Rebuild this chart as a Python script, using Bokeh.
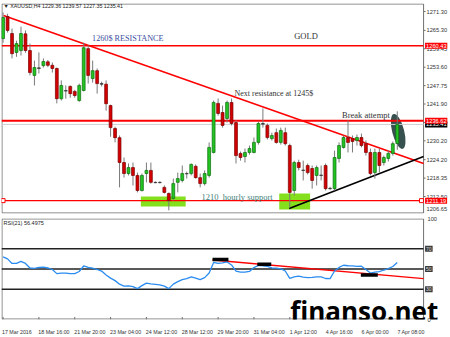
from bokeh.plotting import figure
from bokeh.layouts import column
from bokeh.models import Range1d, FixedTicker, Label, PrintfTickFormatter
from bokeh.embed import file_html
from bokeh.resources import INLINE

# ---------------- data ----------------
opens = [1262.7, 1269.7, 1264.3, 1258.3, 1258.9, 1264.2, 1258.9, 1251.0, 1253.4, 1254.1,
         1255.3, 1254.2, 1253.2, 1243.6, 1246.2, 1247.5, 1245.9, 1243.0, 1246.2, 1259.5,
         1250.0, 1252.5, 1248.4, 1248.2, 1241.4, 1234.1, 1231.2, 1223.3, 1219.8, 1221.7,
         1219.2, 1214.4, 1219.8, 1220.8, 1217.0, 1216.9, 1215.4, 1213.45, 1211.9, 1217.0,
         1217.6, 1219.8, 1219.8, 1222.1, 1218.5, 1216.6, 1219.2, 1226.5, 1242.1, 1239.2,
         1237.3, 1242.4, 1236.0, 1226.2, 1225.2, 1226.5, 1226.5, 1229.7, 1235.7, 1235.1,
         1230.9, 1232.8, 1229.7, 1232.8, 1228.7, 1214.4, 1223.3, 1220.8, 1222.35, 1221.4,
         1219.2, 1219.2, 1222.35, 1215.0, 1215.0, 1224.6, 1228.1, 1231.25, 1230.9, 1230.3,
         1231.25, 1229.3, 1226.5, 1220.1, 1226.5, 1223.3, 1224.6, 1226.2, 1229.36]
highs = [1271.0, 1270.6, 1265.9, 1262.0, 1266.5, 1265.3, 1261.1, 1255.7, 1258.3, 1256.4,
         1255.9, 1255.1, 1253.5, 1249.4, 1247.8, 1247.8, 1246.4, 1248.4, 1261.4, 1260.5,
         1255.7, 1253.2, 1249.0, 1249.4, 1241.7, 1234.7, 1231.9, 1224.9, 1223.0, 1223.3,
         1220.1, 1219.8, 1223.3, 1223.3, 1217.3, 1217.3, 1216.0, 1213.8, 1218.2, 1220.1,
         1222.35, 1220.4, 1223.0, 1222.7, 1219.8, 1220.8, 1229.7, 1243.0, 1243.65, 1241.4,
         1243.0, 1243.65, 1236.7, 1226.8, 1227.75, 1228.7, 1231.25, 1236.3, 1240.5, 1235.7,
         1232.8, 1234.1, 1234.4, 1234.4, 1229.3, 1223.9, 1224.2, 1223.9, 1223.0, 1222.35,
         1222.35, 1222.35, 1223.0, 1215.6, 1227.1, 1229.7, 1231.9, 1236.7, 1231.9, 1232.2,
         1232.5, 1230.3, 1227.75, 1227.75, 1227.75, 1225.5, 1227.1, 1230.0, 1239.57]
lows = [1261.4, 1264.6, 1256.4, 1256.9, 1257.3, 1258.2, 1251.0, 1247.8, 1251.6, 1253.5,
        1253.6, 1251.9, 1242.1, 1243.0, 1243.6, 1243.9, 1243.9, 1242.6, 1245.9, 1248.4,
        1248.7, 1245.2, 1247.5, 1239.8, 1231.5, 1229.7, 1215.4, 1218.5, 1219.2, 1216.0,
        1213.8, 1214.1, 1217.0, 1216.6, 1216.7, 1216.7, 1213.45, 1208.1, 1211.2, 1213.8,
        1217.0, 1218.2, 1219.2, 1218.2, 1215.4, 1216.0, 1218.5, 1226.2, 1238.2, 1234.4,
        1236.0, 1235.1, 1223.0, 1223.9, 1223.3, 1225.8, 1226.2, 1229.0, 1234.4, 1230.6,
        1230.3, 1229.3, 1229.0, 1228.7, 1209.0, 1212.8, 1220.8, 1217.6, 1219.5, 1215.0,
        1216.0, 1217.6, 1214.4, 1214.6, 1214.4, 1223.3, 1227.75, 1226.5, 1226.5, 1228.7,
        1228.1, 1225.5, 1219.2, 1218.2, 1220.1, 1222.35, 1223.6, 1225.5, 1227.35]
closes = [1269.4, 1265.3, 1257.9, 1261.1, 1264.3, 1258.9, 1251.9, 1253.5, 1253.2, 1255.4,
          1254.2, 1253.2, 1243.6, 1247.8, 1246.0, 1245.2, 1244.6, 1247.8, 1259.8, 1251.0,
          1252.5, 1248.4, 1248.2, 1242.0, 1234.4, 1231.2, 1223.3, 1219.8, 1221.7, 1219.2,
          1214.4, 1219.2, 1220.8, 1217.0, 1216.9, 1217.0, 1213.8, 1211.2, 1216.6, 1218.2,
          1219.8, 1219.7, 1222.7, 1218.5, 1216.6, 1219.8, 1228.1, 1242.4, 1238.9, 1235.1,
          1242.4, 1235.7, 1225.5, 1224.9, 1226.5, 1227.75, 1229.7, 1235.7, 1235.5, 1231.25,
          1231.9, 1229.7, 1233.5, 1229.3, 1213.8, 1223.3, 1221.7, 1220.9, 1220.1, 1217.6,
          1221.7, 1219.3, 1215.0, 1215.1, 1224.9, 1228.7, 1231.25, 1229.7, 1230.0, 1231.25,
          1228.7, 1226.5, 1219.8, 1226.5, 1222.35, 1224.9, 1226.2, 1229.3, 1235.41]
rsi = [62, 60, 55.5, 55.5, 57.5, 55.5, 51, 50.6, 51.5, 51.8,
       51, 49.5, 45.4, 46, 46, 45.4, 45.4, 47.5, 53, 51.5,
       50.8, 49.5, 48, 44, 41, 38.5, 35, 33, 33.2, 32.5,
       30.6, 33.5, 36, 35.3, 34.8, 34.3, 33, 30.6, 35, 37.5,
       39.5, 40.5, 42.3, 41, 39.5, 41.5, 46, 56.5, 55.5, 56,
       57, 54, 48, 47, 47, 47.6, 51.4, 53.6, 53.1, 52.5,
       51, 50.9, 50.2, 48, 40.8, 42.3, 43, 42, 41.5, 41.8,
       42.3, 42.2, 40.6, 40.5, 48, 51.6, 53.7, 53.2, 53.1, 52.5,
       52.8, 49.5, 46, 47, 47.4, 49, 50.3, 52.5, 56.5]
date_labels = ["17 Mar 2016", "18 Mar 16:00", "21 Mar 20:00", "23 Mar 04:00",
               "24 Mar 12:00", "28 Mar 12:00", "29 Mar 20:00", "31 Mar 04:00",
               "1 Apr 12:00", "4 Apr 16:00", "6 Apr 00:00", "7 Apr 08:00"]
date_label_bars = [0, 8, 16, 24, 32, 40, 48, 56, 64, 72, 80, 88]
price_ticks = [1271.30, 1265.30, 1259.45, 1253.60, 1247.75, 1241.90, 1236.05,
               1230.20, 1224.20, 1218.35, 1212.50]
resistance_1260 = 1260.43
resistance_1236 = 1236.62
support_1211 = 1211.19
bid_price = 1235.41
rsi_levels = [70, 50, 30]

n = len(opens)
idx = list(range(n))

# layout constants (bar units / pixels)
X0 = -0.35      # left edge of the frame
XR = 93.87      # right edge of the chart area (price scale starts here)
XE = 99.21      # right edge of the canvas frame
GRID = "#707070"

xr = Range1d(X0, XE)

# ---------------- main price chart ----------------
Y0, Y1 = 1207.1, 1273.85
main = figure(width=450, height=214, x_range=xr, y_range=Range1d(Y0, Y1),
              output_backend="svg", toolbar_location=None, x_axis_location=None,
              y_axis_location="right", min_border_left=1, min_border_right=1,
              min_border_top=3, min_border_bottom=1)
main.grid.visible = False
main.outline_line_color = None
ya = main.yaxis[0]
ya.ticker = FixedTicker(ticks=price_ticks + [1208.6])
ya.formatter = PrintfTickFormatter(format="%.2f")
ya.major_label_overrides = {1208.6: "1206.65"}
ya.major_label_text_font_size = "5.7px"
ya.major_label_text_font = "Liberation Sans"
ya.major_label_text_color = "#333333"
ya.major_tick_out = 0
ya.major_tick_in = 0
ya.major_tick_line_color = None
ya.minor_tick_line_color = None
ya.major_label_standoff = -21
ya.axis_line_color = None

# frame border of the chart area
main.quad(left=[-0.24], right=[XR], bottom=[Y0 + 0.16], top=[Y1 - 0.16],
          fill_color=None, line_color=GRID, line_width=1)
# small tick marks on the price scale
main.segment(x0=[XR] * len(price_ticks), x1=[XR + 0.45] * len(price_ticks),
             y0=price_ticks, y1=price_ticks, line_color=GRID, line_width=1)

# green support boxes
main.quad(left=[30.76, 61.65], right=[40.76, 68.54], bottom=[1209.3, 1208.4],
          top=[1212.5, 1213.45], fill_color="#84e01c", line_color=None)

# break-attempt ellipse
main.ellipse(x=[88.2], y=[1233.2], width=12, height=36, width_units="screen",
             height_units="screen", angle=0.25, fill_color="#2b4846", fill_alpha=0.95,
             line_color=None)

# horizontal levels
main.segment(x0=[X0], x1=[XR], y0=[bid_price], y1=[bid_price], line_color="#cfcfcf", line_width=1)
main.segment(x0=[X0], x1=[XR], y0=[resistance_1260], y1=[resistance_1260], line_color="#ff0000", line_width=1.6)
main.segment(x0=[X0], x1=[XR], y0=[resistance_1236], y1=[resistance_1236], line_color="#ff0000", line_width=2)
main.segment(x0=[X0], x1=[XR], y0=[support_1211], y1=[support_1211], line_color="#ff0000", line_width=1.4)
main.scatter(x=[0.0, 93.4], y=[support_1211, support_1211], marker="square", size=4,
             fill_color="white", line_color="#ff0000", line_width=1)

# trend lines
main.line(x=[0.1, XR], y=[1270.0, 1223.0], line_color="#ff0000", line_width=1.6)
main.line(x=[63.87, XR], y=[1208.7, 1225.2], line_color="#000000", line_width=1.6)

# candles
main.segment(x0=idx, y0=lows, x1=idx, y1=highs, line_color="#7a7a7a", line_width=1)
tops = [max(o, c) for o, c in zip(opens, closes)]
bots = [min(o, c) for o, c in zip(opens, closes)]
fills, lines = [], []
for o, c in zip(opens, closes):
    if abs(o - c) < 0.25:
        fills.append("#555555"); lines.append("#333333")
    elif c > o:
        fills.append("#22c322"); lines.append("#0d6e0d")
    else:
        fills.append("#d40000"); lines.append("#7a0000")
main.vbar(x=idx, width=0.64, top=tops, bottom=bots, fill_color=fills, line_color=lines,
          line_width=0.7)

# price tags on the scale
def tag(p, price, text, bg, fg="white", size="5.7px"):
    p.add_layout(Label(x=XR, y=price, text=text, x_offset=1.5, text_font="Liberation Sans",
                       text_font_size=size, text_color=fg, text_baseline="middle",
                       text_align="left", background_fill_color=bg, padding=1))

tag(main, bid_price, "1235.41", "#000000")
tag(main, resistance_1236, "1236.62", "#ff0000")
tag(main, resistance_1260, "1260.43", "#ff0000")
tag(main, support_1211, "1211.19", "#ff0000")

# texts
main.add_layout(Label(x=X0, y=1272.9, x_offset=2, text="\u25bc XAUUSD,H4  1229.36 1239.57 1227.35 1235.41",
                      text_font="Liberation Sans", text_font_size="5.3px", text_color="#222222",
                      text_baseline="middle"))
serif = "Liberation Serif"
main.add_layout(Label(x=19.87, y=1262.88, text="1260$ RESISTANCE", text_font=serif,
                      text_font_size="8.2px", text_color="#3b4ea0", text_baseline="middle"))
main.add_layout(Label(x=64.98, y=1263.67, text="GOLD", text_font=serif,
                      text_font_size="8.5px", text_color="#333333", text_baseline="middle"))
main.add_layout(Label(x=51.65, y=1245.24, text="Next resistance at 1245$", text_font=serif,
                      text_font_size="8px", text_color="#333333", text_baseline="middle"))
main.add_layout(Label(x=75.65, y=1238.56, text="Break attempt", text_font=serif,
                      text_font_size="8.5px", text_color="#333333", text_baseline="middle"))
main.add_layout(Label(x=44.32, y=1212.5, text="1210\u00a0 hourly support", text_font=serif,
                      text_font_size="8.5px", text_color="#3f7f7a", text_baseline="middle"))

# ---------------- RSI panel ----------------
rp = figure(width=450, height=123, x_range=xr, y_range=Range1d(0, 100),
            output_backend="svg", toolbar_location=None, y_axis_location="right",
            min_border_left=1, min_border_right=1, min_border_top=4, min_border_bottom=0)
rp.grid.visible = False
rp.outline_line_color = None
ry = rp.yaxis[0]
ry.ticker = FixedTicker(ticks=[0, 100])
ry.major_label_text_font_size = "5.7px"
ry.major_label_text_font = "Liberation Sans"
ry.major_label_text_color = "#333333"
ry.major_tick_out = 0
ry.major_tick_in = 0
ry.major_tick_line_color = None
ry.minor_tick_line_color = None
ry.major_label_standoff = -20
ry.axis_line_color = None

rx = rp.xaxis[0]
tick_pos = [b + len(t) * 0.28 for b, t in zip(date_label_bars, date_labels)]
rx.ticker = FixedTicker(ticks=tick_pos)
rx.major_label_overrides = {tp: t for tp, t in zip(tick_pos, date_labels)}
rx.major_label_text_font_size = "5.3px"
rx.major_label_text_font = "Liberation Sans"
rx.major_label_text_color = "#333333"
rx.major_tick_line_color = None
rx.minor_tick_line_color = None
rx.major_label_standoff = 3
rx.axis_line_color = None

rp.quad(left=[-0.24], right=[XR], bottom=[0.46], top=[99.54],
        fill_color=None, line_color=GRID, line_width=1)
# small date tick marks below the panel
rp.segment(x0=date_label_bars, x1=date_label_bars, y0=[0.0] * len(date_label_bars),
           y1=[2.5] * len(date_label_bars), line_color=GRID, line_width=1)

for lv in rsi_levels:
    rp.segment(x0=[X0], x1=[XR], y0=[lv], y1=[lv], line_color="#222222", line_width=1.4)
    tag(rp, lv, str(lv), "#3a3a3a", fg="#dddddd", size="5px")

rp.line(x=[46.76, XR], y=[58.9, 40.5], line_color="#ff0000", line_width=1.3)
rp.line(x=idx, y=rsi, line_color="#2a8cf0", line_width=1.3)
rp.segment(x0=[46.76, 56.76, 79.87], x1=[50.31, 59.87, 83.65], y0=[59.3, 54.8, 44.1],
           y1=[59.3, 54.8, 44.1], line_color="#000000", line_width=3.5)

rp.add_layout(Label(x=X0, y=95.8, x_offset=2, text="RSI(21) 56.4975", text_font="Liberation Sans",
                    text_font_size="5.5px", text_color="#222222", text_baseline="middle"))
rp.add_layout(Label(x=64.09, y=8.1, text="finanso.net", text_font="Open Sans",
                    text_font_style="bold", text_font_size="26px", text_color="#000000",
                    text_baseline="alphabetic"))

layout = column(main, rp, spacing=0)
open("out.html", "w").write(file_html(layout, INLINE))
